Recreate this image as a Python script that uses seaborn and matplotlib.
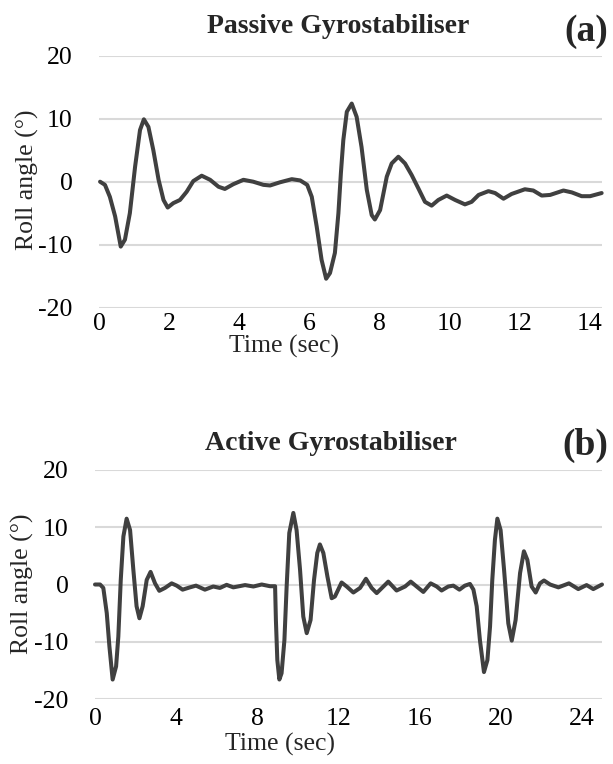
import matplotlib
matplotlib.use("Agg")
import matplotlib.pyplot as plt
import seaborn as sns
import pandas as pd

# ---------------- data ----------------
passive_time = [0.03, 0.17, 0.31, 0.46, 0.62, 0.74, 0.88, 1.03, 1.17, 1.28, 1.41, 1.55,
                1.70, 1.84, 1.96, 2.12, 2.31, 2.50, 2.69, 2.93, 3.17, 3.41, 3.59, 3.83,
                4.12, 4.40, 4.69, 4.88, 5.16, 5.50, 5.74, 5.94, 6.07, 6.21, 6.35, 6.48,
                6.59, 6.73, 6.83, 6.90, 6.97, 7.07, 7.21, 7.35, 7.49, 7.64, 7.78, 7.87,
                8.02, 8.21, 8.35, 8.54, 8.73, 8.92, 9.11, 9.30, 9.49, 9.68, 9.92, 10.16,
                10.44, 10.63, 10.83, 11.11, 11.30, 11.54, 11.77, 12.15, 12.39, 12.63,
                12.87, 13.25, 13.49, 13.77, 14.01, 14.34]
passive_roll = [0.0, -0.5, -2.4, -5.5, -10.3, -9.2, -5.0, 2.4, 8.2, 9.9, 8.7, 5.0,
                0.3, -2.9, -4.1, -3.4, -2.9, -1.6, 0.1, 0.95, 0.3, -0.8, -1.15, -0.4,
                0.3, 0.0, -0.5, -0.6, -0.1, 0.4, 0.2, -0.5, -2.4, -7.1, -12.4, -15.4,
                -14.5, -11.3, -5.0, 1.3, 6.6, 11.1, 12.4, 10.3, 5.5, -1.3, -5.3, -6.0,
                -4.5, 0.8, 2.9, 3.96, 2.9, 1.06, -1.05, -3.2, -3.8, -2.9, -2.2, -2.9,
                -3.6, -3.2, -2.1, -1.5, -1.8, -2.7, -1.95, -1.2, -1.4, -2.2,
                -2.1, -1.4, -1.7, -2.3, -2.3, -1.8]

active_time = [0.0, 0.25, 0.41, 0.58, 0.71, 0.87, 1.04, 1.15, 1.27, 1.40, 1.56, 1.73,
               1.89, 2.05, 2.19, 2.35, 2.55, 2.74, 2.96, 3.17, 3.45, 3.78, 4.03, 4.32,
               4.68, 4.98, 5.42, 5.83, 6.16, 6.49, 6.82, 7.40, 7.81, 8.22, 8.63, 8.88,
               8.92, 8.99, 9.09, 9.20, 9.34, 9.45, 9.58, 9.78, 9.94, 10.11, 10.27, 10.44,
               10.63, 10.80, 10.96, 11.09, 11.26, 11.46, 11.67, 11.83, 12.16, 12.41,
               12.74, 13.07, 13.36, 13.64, 13.89, 14.22, 14.46, 14.87, 15.29, 15.57,
               15.86, 16.19, 16.55, 16.85, 17.09, 17.42, 17.67, 17.97, 18.24, 18.49,
               18.66, 18.82, 18.98, 19.18, 19.35, 19.48, 19.59, 19.72, 19.84, 20.00,
               20.17, 20.38, 20.55, 20.74, 20.96, 21.15, 21.32, 21.53, 21.73, 21.94,
               22.14, 22.44, 22.85, 23.37, 23.83, 24.24, 24.57, 25.0]
active_roll = [0.0, 0.0, -0.6, -5.0, -10.8, -16.6, -14.3, -9.1, 0.8, 8.4, 11.5, 9.5,
               2.6, -3.8, -5.9, -3.8, 0.8, 2.2, 0.2, -1.1, -0.6, 0.2, -0.2, -0.9,
               -0.5, -0.2, -0.9, -0.35, -0.6, -0.06, -0.5, -0.1, -0.35, 0.0, -0.3, -0.3,
               -6.2, -13.2, -16.6, -15.5, -9.7, -0.35, 9.0, 12.5, 9.5, 2.6, -5.6, -8.5,
               -6.2, 0.8, 5.5, 7.0, 5.5, 1.4, -2.4, -2.1, 0.35, -0.35,
               -1.4, -0.6, 1.0, -0.6, -1.5, -0.35, 0.5, -1.05, -0.35, 0.5,
               -0.35, -1.3, 0.2, -0.35, -1.05, -0.35, -0.2, -0.9, -0.2, 0.1,
               -0.9, -3.8, -9.7, -15.3, -13.2, -7.3, 0.8, 7.8, 11.5, 9.5,
               2.6, -6.8, -9.8, -6.2, 2.0, 5.8, 4.3, -0.35, -1.4, 0.2,
               0.7, 0.0, -0.5, 0.2, -0.8, -0.1, -0.8, 0.0]

y_ticks = [-20, -10, 0, 10, 20]
passive_xticks = [0, 2, 4, 6, 8, 10, 12, 14]
active_xticks = [0, 4, 8, 12, 16, 20, 24]

# ---------------- style ----------------
sns.set_theme(style="white")
plt.rcParams["font.family"] = ["Liberation Serif", "DejaVu Serif"]

W, H = 613, 764
fig = plt.figure(figsize=(W / 100, H / 100), dpi=100)

line_color = "#404040"
grid_color = "#d9d9d9"
tick_fs = 18.5
label_fs = 18.5
title_fs = 20
tag_fs = 27


def px_axes(left, top, right, bottom):
    return fig.add_axes([left / W, 1 - bottom / H, (right - left) / W, (bottom - top) / H])


def style_axes(ax, xlim, xticks, xpad):
    ax.set_ylim(-20, 20)
    ax.set_xlim(*xlim)
    ax.set_yticks(y_ticks)
    ax.set_yticklabels([str(v) for v in y_ticks])
    ax.set_xticks(xticks)
    ax.set_xticklabels([str(v) for v in xticks])
    ax.yaxis.grid(True, color=grid_color, linewidth=1.5)
    ax.xaxis.grid(False)
    ax.set_axisbelow(True)
    for s in ax.spines.values():
        s.set_visible(False)
    ax.tick_params(axis="y", length=0, pad=19, labelsize=tick_fs, colors="black")
    ax.tick_params(axis="x", length=0, pad=xpad, labelsize=tick_fs, colors="black")
    ax.set_xlabel("")
    ax.set_ylabel("")


def draw_panel(ax, times, rolls, xlim, xticks, xpad):
    df = pd.DataFrame({"Time": times, "Roll": rolls})
    sns.lineplot(data=df, x="Time", y="Roll", ax=ax, color=line_color,
                 linewidth=2.9, sort=False, estimator=None)
    for ln in ax.get_lines():
        ln.set_clip_on(False)
        ln.set_solid_joinstyle("round")
        ln.set_solid_capstyle("round")
    style_axes(ax, xlim, xticks, xpad)


# Panel (a)
ax1 = px_axes(99, 55.7, 602, 307.7)
draw_panel(ax1, passive_time, passive_roll, (0, 14.35), passive_xticks, 3.5)

# Panel (b)
ax2 = px_axes(95, 470, 602, 699)
draw_panel(ax2, active_time, active_roll, (0, 25.0), active_xticks, 6.5)


def ftext(x, y, s, **kw):
    fig.text(x / W, 1 - y / H, s, **kw)


# titles and tags
ftext(338, 33, "Passive Gyrostabiliser", ha="center", va="baseline",
      fontsize=title_fs, fontweight="bold")
ftext(608, 41, "(a)", ha="right", va="baseline", fontsize=tag_fs, fontweight="bold")
ftext(331, 450, "Active Gyrostabiliser", ha="center", va="baseline",
      fontsize=title_fs, fontweight="bold")
ftext(608, 455, "(b)", ha="right", va="baseline", fontsize=tag_fs, fontweight="bold")

# axis labels
ftext(284, 346, "Time (sec)", ha="center", va="center", fontsize=label_fs)
ftext(280, 744, "Time (sec)", ha="center", va="center", fontsize=label_fs)
ftext(27, 180, "Roll angle (°)", ha="center", va="center", rotation=90, fontsize=label_fs)
ftext(22, 584, "Roll angle (°)", ha="center", va="center", rotation=90, fontsize=label_fs)

fig.savefig("out.png", dpi=100, facecolor="white")
